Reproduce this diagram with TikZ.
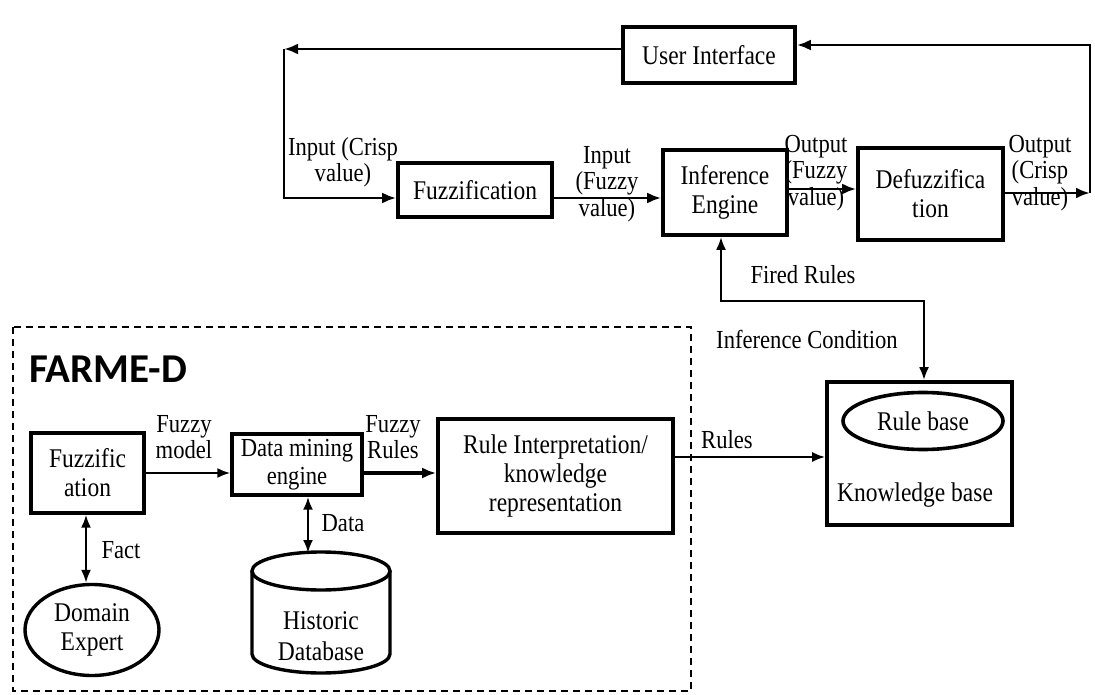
\documentclass[tikz,border=0pt]{standalone}
\usepackage{fontspec}
\setmainfont{Liberation Serif}[FakeStretch=0.87]
\newfontfamily\farmefont{Carlito}
\usetikzlibrary{arrows.meta,shapes.geometric}
\begin{document}
\begin{tikzpicture}[x=1pt,y=-1pt,
  box/.style={draw,line width=3.6pt,inner sep=0pt,align=center,font=\fontsize{27}{29}\selectfont},
  lbl/.style={align=center,inner sep=0pt,font=\fontsize{26}{26.5}\selectfont},
  arr/.style={line width=2.8pt,-{Latex[length=14pt,width=11pt]}},
  thinarr/.style={line width=2.2pt,-{Latex[length=13pt,width=10pt]}},
  dblarr/.style={line width=2.6pt,{Latex[length=13pt,width=10pt]}-{Latex[length=13pt,width=10pt]}},
  dashbox/.style={draw,line width=2.2pt,dash pattern=on 7pt off 5pt}]
\useasboundingbox (0,0) rectangle (1095,695);
\fill[white] (0,0) rectangle (1095,695);

% ---------- upper system ----------
\node[box,minimum width=172pt,minimum height=56pt] (ui) at (709,55) {User Interface};
\node[box,minimum width=154pt,minimum height=54pt] (fuz) at (475,190) {Fuzzification};
\node[box,minimum width=124pt,minimum height=85pt] (inf) at (725,192.5) {Inference\\Engine};
\node[box,minimum width=145pt,minimum height=92pt] (def) at (930.5,194) {Defuzzifica\\tion};

\coordinate (cTL) at (284,49);
\coordinate (cBL) at (284,198);
\coordinate (cBR) at (1090,193);
\coordinate (cTR) at (1090,45);
\coordinate (cMid) at (820,301);

\draw[arr] (ui.west |- cTL) -- (cTL);
\draw[arr] (cTL) -- (cBL) -- (fuz.west |- cBL);
\draw[arr] (fuz.east |- cBL) -- (inf.west |- cBL);
\draw[arr] (inf.east |- 0,189) -- (def.west |- 0,189);
\draw[arr] (def.east |- cBR) -- (cBR);
\draw[arr] (cBR) -- (cTR) -- (ui.east |- cTR);

\node[lbl] (l1) at (343,162) {Input (Crisp\\value)};
\node[lbl] (l2) at (607,184) {Input\\(Fuzzy\\value)};
\node[lbl] (l3) at (816,173) {Output\\(Fuzzy\\value)};
\node[lbl] (l4) at (1040,173) {Output\\(Crisp\\value)};

% ---------- knowledge base ----------
\node[box,minimum width=185pt,minimum height=143pt] (kb) at (919.5,453.5) {};
\node[box,ellipse,minimum width=160pt,minimum height=57pt] (rb) at (923,421) {Rule base};
\node[lbl,font=\fontsize{27}{29}\selectfont] (kbt) at (915,495) {Knowledge base};

\draw[dblarr] ([xshift=-4pt]inf.south) |- (cMid) -| ([xshift=4.5pt]kb.north);
\node[lbl] (fr) at (803,275) {Fired Rules};
\node[lbl] (ic) at (807,339) {Inference Condition};

% ---------- FARME-D ----------
\draw[dashbox] (13,327) rectangle (691,691);
\node[anchor=base west,inner sep=0pt,font=\farmefont\bfseries\fontsize{41}{41}\selectfont] (farme) at (29,382) {FARME-D};

\node[box,line width=3.4pt,minimum width=113pt,minimum height=80pt] (fz2) at (87.5,473) {Fuzzific\\ation};
\node[box,line width=3.4pt,minimum width=130pt,minimum height=61pt,font=\fontsize{26}{28}\selectfont] (dm) at (297,464.5) {Data mining\\engine};
\node[box,minimum width=235pt,minimum height=114pt] (ri) at (555.5,476) {Rule Interpretation/\\knowledge\\representation};
\node[box,ellipse,line width=3.4pt,minimum width=134pt,minimum height=91pt] (de) at (92,630) {Domain\\Expert};

% database cylinder
\draw[line width=3.4pt] (252,571) -- (252,654) arc[start angle=180,end angle=0,x radius=69,y radius=19] -- (390,571);
\draw[line width=3.4pt] (321,571) ellipse[x radius=69,y radius=19];
\node[lbl,font=\fontsize{27}{31}\selectfont] (db) at (321,636) {Historic\\Database};
\coordinate (dbtop) at (308,553);

\draw[thinarr] (fz2.east) -- (dm.west |- fz2.east);
\draw[arr,line width=3.2pt] (dm.east |- fz2.east) -- (ri.west |- fz2.east);
\draw[thinarr] (ri.east |- 0,457) -- (kb.west |- 0,457);
\draw[dblarr,line width=2.2pt] ([xshift=-1.5pt]fz2.south) -- ([xshift=-6pt]de.north);
\draw[dblarr] (dm.south -| dbtop) -- (dbtop);

\node[lbl] (fm) at (184,437) {Fuzzy\\model};
\node[lbl] (frl) at (393,437) {Fuzzy\\Rules};
\node[lbl] (rl) at (727,440) {Rules};
\node[lbl] (fa) at (121,550) {Fact};
\node[lbl] (da) at (343,523) {Data};
\end{tikzpicture}
\end{document}
